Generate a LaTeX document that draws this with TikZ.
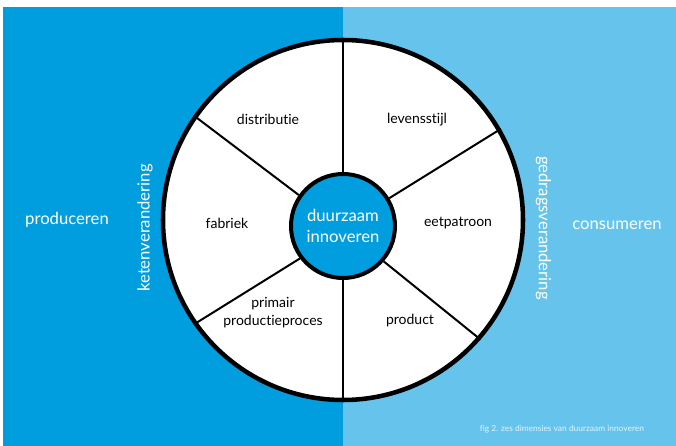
\documentclass[tikz,border=0pt]{standalone}
\usepackage{fontspec}
\setmainfont{Lato}[Ligatures=NoCommon]
\usepackage{tikz}
\usetikzlibrary{positioning}
\definecolor{ketenblauw}{RGB}{0,158,222}
\definecolor{gedragblauw}{RGB}{102,196,236}

\begin{document}
\begin{tikzpicture}[x=0.75pt,y=-0.75pt,
  sector/.style={anchor=base,align=center,font=\fontsize{10.5}{12.8}\selectfont},
  side/.style={text=white,font=\fontsize{12.5}{15}\selectfont},
  spoke/.style={line width=1.5pt}]
\useasboundingbox (0,0) rectangle (676,446);
% twee vlakken: produceren en consumeren
\fill[ketenblauw] (3,7) rectangle (343,446);
\fill[gedragblauw] (343,7) rectangle (676,446);

\node (wheel) at (343,220) [circle,draw,fill=white,line width=3.4pt,minimum size=270pt] {};
\node (core) at (343,226) [circle,draw,fill=ketenblauw,line width=3pt,minimum size=78pt,
  inner sep=0pt,align=center,text=white,font=\fontsize{12.5}{15.8}\selectfont] {duurzaam\\innoveren};

% spaken tussen kern en rand
\foreach \a/\b in {90/90,145/145,31/30,217/215,319/319,270/270}
  \draw[spoke] (core.\a) -- (wheel.\b);

\node (distributie) at (268,124) [sector] {distributie};
\node (levensstijl) at (417,123) [sector] {levensstijl};
\node (fabriek) at (227,228) [sector] {fabriek};
\node (eetpatroon) at (458,226) [sector] {eetpatroon};
\node (primair) at (273,325) [sector] {primair\\productieproces};
\node (product) at (410,324) [sector] {product};

\node (produceren) at (67,224) [side,anchor=base] {produceren};
\node (consumeren) at (617,229) [side,anchor=base] {consumeren};
\node (keten) at (145,228) [side,rotate=90] {ketenverandering};
\node (gedrag) at (543.5,228) [side,rotate=-90] {gedragsverandering};

\node (fig) at (562,429) [text=white,opacity=0.8,font=\fontsize{6.3}{7}\selectfont] {fig 2. zes dimensies van duurzaam innoveren};
\end{tikzpicture}
\end{document}
